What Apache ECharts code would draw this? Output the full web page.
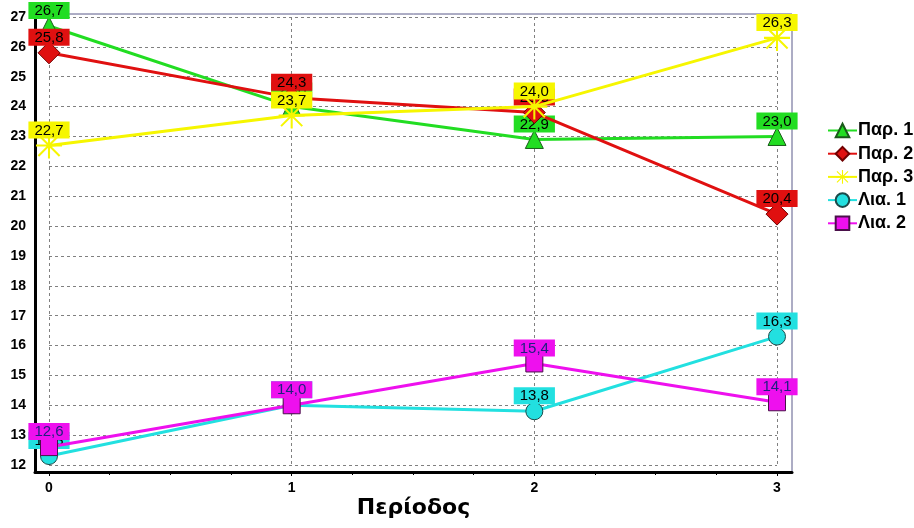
<!DOCTYPE html>
<html>
<head>
<meta charset="utf-8">
<script src="https://cdn.jsdelivr.net/npm/echarts@6/dist/echarts.min.js"></script>
<style>html,body{margin:0;padding:0;background:#fff;}#c{width:914px;height:528px;}</style>
</head>
<body>
<div id="c"></div>
<script>
var periods = [0, 1, 2, 3];
var yTicks = [12, 13, 14, 15, 16, 17, 18, 19, 20, 21, 22, 23, 24, 25, 26, 27];
var seriesNames = ['Παρ. 1', 'Παρ. 2', 'Παρ. 3', 'Λια. 1', 'Λια. 2'];
var par1 = [26.7, 24.0, 22.9, 23.0];
var par2 = [25.8, 24.3, 23.8, 20.4];
var par3 = [22.7, 23.7, 24.0, 26.3];
var lia1 = [12.3, 14.0, 13.8, 16.3];
var lia2 = [12.6, 14.0, 15.4, 14.1];
var xAxisTitle = 'Περίοδος';

var starPath = 'path://M0,9.2h20v1.6h-20z M9.2,0h1.6v20h-1.6z M2.4,1.3L18.7,17.6L17.6,18.7L1.3,2.4z M17.6,1.3L18.7,2.4L2.4,18.7L1.3,17.6z';

var styles = [
  {color: '#22dd22', symbol: 'triangle', size: 18, border: '#1a5a1a', text: '#000'},
  {color: '#e01010', symbol: 'diamond', size: 22, border: '#700000', text: '#000'},
  {color: '#f6f600', symbol: starPath, size: 26, border: 'transparent', text: '#000'},
  {color: '#22e0e0', symbol: 'circle', size: 17, border: '#1a4a4a', text: '#000'},
  {color: '#ee10ee', symbol: 'rect', size: 17, border: '#4a104a', text: '#202080'}
];
var values = [par1, par2, par3, lia1, lia2];

function fmt(v) { return v.toFixed(1).replace('.', ','); }

var series = values.map(function (vals, i) {
  var s = styles[i];
  return {
    name: seriesNames[i],
    type: 'line',
    xAxisIndex: 0,
    yAxisIndex: 0,
    data: periods.map(function (p, j) { return [p, vals[j]]; }),
    symbol: s.symbol,
    symbolSize: s.size,
    lineStyle: {color: s.color, width: 3},
    itemStyle: {color: s.color, borderColor: s.border, borderWidth: 1},
    label: {
      show: true,
      position: 'top',
      distance: 6.5 - s.size / 2,
      formatter: function (p) { return fmt(p.value[1]); },
      backgroundColor: s.color,
      color: s.text,
      fontFamily: 'Liberation Sans, Arial, sans-serif',
      fontSize: 15,
      lineHeight: 16,
      padding: [1, 6, 0, 6]
    },
    emphasis: {disabled: true},
    animation: false,
    z: 2 + i
  };
});

var chart = echarts.init(document.getElementById('c'), null, {renderer: 'canvas'});
chart.setOption({
  animation: false,
  backgroundColor: '#ffffff',
  grid: [
    {left: 49, right: 137, top: 17, bottom: 63},
    {left: 35, right: 122, top: 14, bottom: 56, show: true, borderColor: '#5a5a8a', borderWidth: 1, backgroundColor: 'transparent'}
  ],
  legend: {
    orient: 'vertical',
    left: 822,
    top: 116.5,
    itemWidth: 29,
    itemHeight: 17,
    itemGap: 5.2,
    data: seriesNames,
    textStyle: {fontFamily: 'Liberation Sans, Arial, sans-serif', fontSize: 18, fontWeight: 'bold', color: '#000', padding: [0, 0, 0, -4]}
  },
  xAxis: [
    {
      type: 'value', gridIndex: 0, min: 0, max: 3, interval: 1, offset: 7,
      axisLine: {show: false},
      axisTick: {show: true, length: 4, lineStyle: {color: '#000'}},
      minorTick: {show: true, splitNumber: 4, length: 3, lineStyle: {color: '#000'}},
      splitLine: {show: true, lineStyle: {color: '#808080', type: [3, 3], width: 1}},
      axisLabel: {margin: 9, color: '#000', fontFamily: 'Liberation Sans, Arial, sans-serif', fontSize: 14, fontWeight: 'bold'}
    },
    {
      type: 'value', gridIndex: 1, min: 0, max: 1,
      axisLine: {show: true, lineStyle: {color: '#000', width: 3}},
      axisTick: {show: false}, axisLabel: {show: false}, splitLine: {show: false},
      name: xAxisTitle, nameLocation: 'middle', nameGap: 25,
      nameTextStyle: {fontFamily: 'DejaVu Sans, sans-serif', fontSize: 22, fontWeight: 'bold', color: '#000'}
    }
  ],
  yAxis: [
    {
      type: 'value', gridIndex: 0, min: yTicks[0], max: yTicks[yTicks.length - 1], interval: 1, offset: 14,
      axisLine: {show: false},
      axisTick: {show: false},
      splitLine: {show: true, lineStyle: {color: '#808080', type: [3, 3], width: 1}},
      axisLabel: {margin: 9, color: '#000', fontFamily: 'Liberation Sans, Arial, sans-serif', fontSize: 14, fontWeight: 'bold'}
    },
    {
      type: 'value', gridIndex: 1, min: 0, max: 1,
      axisLine: {show: true, lineStyle: {color: '#000', width: 3}},
      axisTick: {show: false}, axisLabel: {show: false}, splitLine: {show: false}
    }
  ],
  series: series
});
</script>
</body>
</html>
